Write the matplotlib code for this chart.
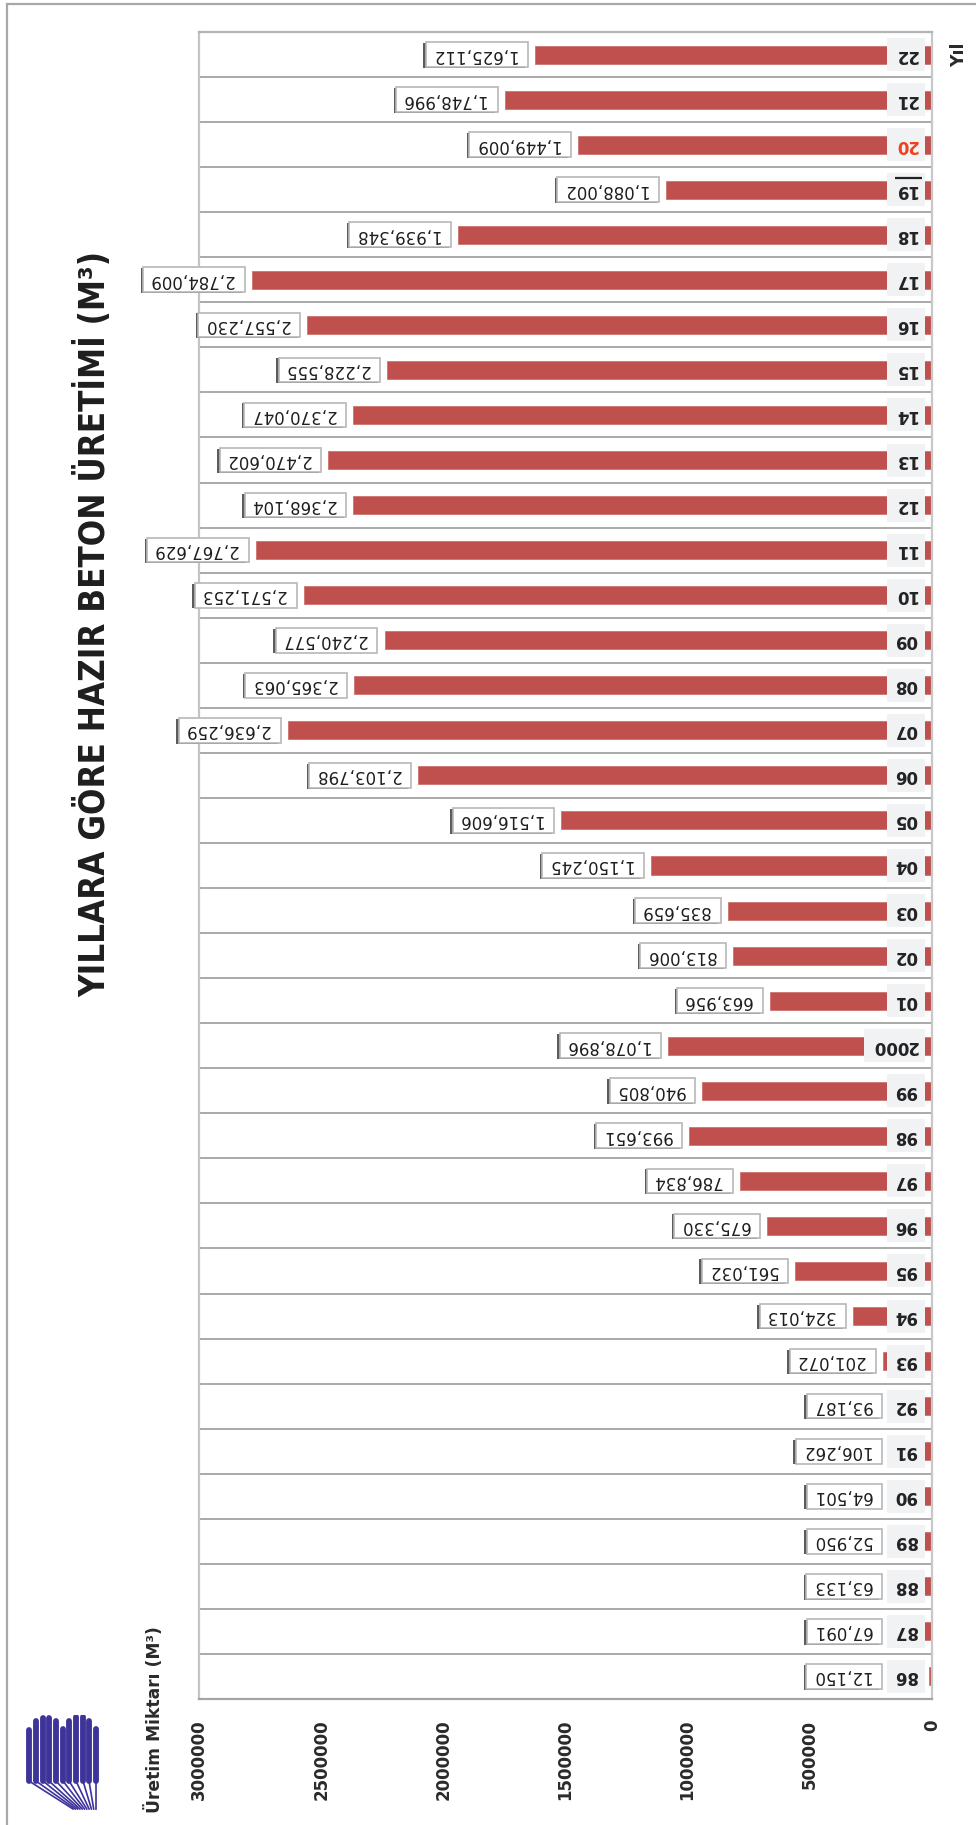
import matplotlib
matplotlib.use("Agg")
import matplotlib.pyplot as plt
import matplotlib.patheffects as pe
import matplotlib.transforms as mtransforms
from matplotlib import font_manager
from matplotlib.patches import Rectangle

# -------------------------------------------------
# data (1986 -> 2022)
# -------------------------------------------------
years = ["86", "87", "88", "89", "90", "91", "92", "93", "94", "95", "96", "97",
         "98", "99", "2000", "01", "02", "03", "04", "05", "06", "07", "08", "09",
         "10", "11", "12", "13", "14", "15", "16", "17", "18", "19", "20", "21", "22"]
production = [12150, 67091, 63133, 52950, 64501, 106262, 93187, 201072, 324013,
              561032, 675330, 786834, 993651, 940805, 1078896, 663956, 813006,
              835659, 1150245, 1516606, 2103798, 2636259, 2365063, 2240577,
              2571253, 2767629, 2368104, 2470602, 2370047, 2228555, 2557230,
              2784009, 1939348, 1088002, 1449009, 1748996, 1625112]
value_ticks = [0, 500000, 1000000, 1500000, 2000000, 2500000, 3000000]

title = "YILLARA GÖRE HAZIR BETON ÜRETİMİ (M³)"
value_label = "Üretim Miktarı (M³)"
year_label = "Yıl"
highlight_year = "20"
marked_year = "19"

# a narrow bold face for the title, if one is installed
title_font = dict(family="Liberation Sans", fontsize=22.5)
for fam, stretch in [("Liberation Sans Narrow", "normal"),
                     ("DejaVu Sans", "condensed")]:
    try:
        path = font_manager.findfont(
            font_manager.FontProperties(family=fam, weight="bold", stretch=stretch),
            fallback_to_default=False)
    except ValueError:
        continue
    if "Narrow" in path or "Condensed" in path:
        title_font = dict(family=fam, fontstretch=stretch, fontsize=25)
        break

W, H = 976, 1825
fig = plt.figure(figsize=(W / 100, H / 100), dpi=100)
fig.patch.set_facecolor("white")

# outer frame of the picture
fig.add_artist(Rectangle((7 / W, -0.1), 1.2, 1.1 - 4 / H, transform=fig.transFigure,
                         fill=False, edgecolor="#a8a8a8", linewidth=1.6))

left, right, top, bottom = 199, 932, 32, 1699
ax = fig.add_axes([left / W, 1 - bottom / H, (right - left) / W, (bottom - top) / H])

pos = list(range(len(years)))
ax.barh(pos, production, height=0.4, color="#c0504d", edgecolor="#cf7370",
        linewidth=0.6, zorder=2)

ax.set_xlim(3000000, 0)
ax.set_ylim(-0.5, len(years) - 0.5)

# row separators
ax.set_yticks([p + 0.5 for p in pos[:-1]], minor=True)
ax.set_yticks([])
ax.grid(which="minor", axis="y", color="#a9a9a9", linewidth=1.4, zorder=1)
ax.tick_params(axis="y", which="both", length=0)

ax.set_xticks(value_ticks)
ax.set_xticklabels([str(v) for v in value_ticks], rotation=90,
                   fontsize=12, fontweight="bold", color="#2a2a2a",
                   family="DejaVu Sans")
ax.tick_params(axis="x", length=0, pad=15)

for side, col in [("left", "#c4c4c4"), ("right", "#c8c8c8"),
                  ("top", "#b4b4b4"), ("bottom", "#a4a4a4")]:
    ax.spines[side].set_color(col)
    ax.spines[side].set_linewidth(1.6)

# year labels (upside down, light boxes over the bar start)
for p, yr in zip(pos, years):
    col = "#f0401e" if yr == highlight_year else "#222222"
    ax.annotate(yr, xy=(0, p), xytext=(-10.5, 0), textcoords="offset points",
                ha="right", va="center", rotation=180, fontsize=12,
                fontweight="bold", color=col, family="DejaVu Sans", zorder=4,
                bbox=dict(boxstyle="square,pad=0.45", facecolor="#f1f2f4",
                          edgecolor="none"))
    if yr == marked_year:
        # bar drawn over the upside-down "19"
        x0, y0 = ax.transData.transform((0, p))
        tr = mtransforms.Affine2D().scale(fig.dpi / 72).translate(x0, y0)
        ax.plot([-7, -27], [8.5, 8.5], color="#222222", linewidth=1.6,
                transform=tr, zorder=5, solid_capstyle="butt")

# value labels (upside down, boxed with a dark left shadow)
thr = 176000
for p, v in zip(pos, production):
    t = ax.annotate(f" {v:,} ", xy=(max(v, thr), p), xytext=(-7.5, 0),
                    textcoords="offset points", ha="right", va="center",
                    rotation=180, fontsize=12, color="#1e1e1e",
                    family="DejaVu Sans", zorder=4,
                    bbox=dict(boxstyle="square,pad=0.2", facecolor="white",
                              edgecolor="#b8b8b8", linewidth=1.2))
    t.get_bbox_patch().set_path_effects(
        [pe.SimplePatchShadow(offset=(-1.8, -0.6), shadow_rgbFace="#4a4a4a",
                              alpha=0.9), pe.Normal()])

# titles
fig.text(93 / W, 1 - 624 / H, title, rotation=90, ha="center", va="center",
         fontweight="bold", color="#1e1e1e", **title_font)
fig.text(155 / W, 1 - 1720 / H, value_label, rotation=90, ha="center",
         va="center", fontsize=12.3, fontweight="bold", color="#2a2a2a",
         family="DejaVu Sans")
fig.text(959 / W, 1 - 55 / H, year_label, rotation=90, ha="center",
         va="center", fontsize=12.5, fontweight="bold", color="#2a2a2a",
         family="DejaVu Sans")

# logo (bottom left)
lg = fig.add_axes([25 / W, 1 - 1812 / H, 80 / W, 97 / H])
lg.set_xlim(0, 80)
lg.set_ylim(97, 0)
lg.axis("off")
bar_x = [4, 11, 18, 24, 31, 38, 44, 51, 58, 64, 71]
bar_top = [15, 6, 3, 3, 6, 14, 6, 2, 2, 6, 14]
for i, (bx, bt) in enumerate(zip(bar_x, bar_top)):
    lg.plot([bx, bx], [bt, 66], color="#3d3399", linewidth=4.2,
            solid_capstyle="round")
    end_x = 48 + i * (71 - 48) / 10
    lg.plot([bx, end_x], [66, 94], color="#3d3399", linewidth=1.2)

fig.savefig("out.png", dpi=100)
